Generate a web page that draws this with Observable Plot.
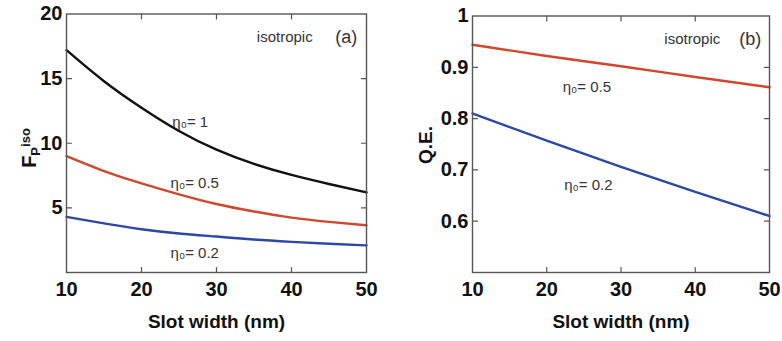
<!DOCTYPE html>
<html><head><meta charset="utf-8">
<script src="https://cdn.jsdelivr.net/npm/d3@7"></script>
<script src="https://cdn.jsdelivr.net/npm/@observablehq/plot@0.6"></script>
<style>
body{margin:0;background:#fff;}
#wrap{position:relative;width:782px;height:341px;display:flex;}
#wrap svg{font-family:"Liberation Sans",Arial,Helvetica,sans-serif;}
</style></head><body><div id="wrap"></div>
<script>
// ---- data ----
const slotWidthA = [10, 15, 20, 25, 30, 35, 40, 45, 50];
const fpEta1   = [17.2, 14.8, 12.75, 10.95, 9.5, 8.4, 7.55, 6.85, 6.2];
const fpEta05  = [9.0, 7.85, 6.9, 6.05, 5.3, 4.72, 4.25, 3.92, 3.65];
const fpEta02  = [4.3, 3.8, 3.35, 3.02, 2.78, 2.55, 2.37, 2.22, 2.1];

const slotWidthB = [10, 20, 30, 40, 50];
const qeEta05  = [0.944, 0.922, 0.902, 0.881, 0.861];
const qeEta02  = [0.81, 0.757, 0.706, 0.657, 0.61];

const xTicks = [10, 20, 30, 40, 50];
const yTicksA = [5, 10, 15, 20];
const yTicksB = [0.6, 0.7, 0.8, 0.9, 1];

const seriesKeys = ["η0=1", "η0=0.5", "η0=0.2"];
const seriesColors = ["#111111", "#d2472c", "#2c47a6"];

const notesA = [
  {x: 26.5, y: 11.6, text: "η₀= 1"},
  {x: 27.1, y: 6.9, text: "η₀= 0.5"},
  {x: 27.1, y: 1.5, text: "η₀= 0.2"},
  {x: 39.1, y: 18.2, text: "isotropic"}
];
const tagA = [{x: 47.3, y: 18.2, text: "(a)"}];
const notesB = [
  {x: 25.4, y: 0.861, text: "η₀= 0.5"},
  {x: 25.6, y: 0.670, text: "η₀= 0.2"},
  {x: 39.6, y: 0.954, text: "isotropic"}
];
const tagB = [{x: 47.4, y: 0.954, text: "(b)"}];

function toRows(xs, list) {
  return list.flatMap(([key, vals]) => xs.map((x, i) => ({x, y: vals[i], key})));
}

// straight tick shape for vectors
const tickShape = {draw(ctx, l) { ctx.moveTo(0, 0); ctx.lineTo(0, -l); }};

function panel(o) {
  const t = {length: 5, anchor: "start", shape: tickShape, stroke: "#555", strokeWidth: 1.2};
  const innerX = o.xTicks.slice(1, -1);
  const innerY = o.yTicks.filter(v => v !== o.yDomain[1]);
  return Plot.plot({
    width: o.width, height: 341,
    marginLeft: o.marginLeft, marginRight: o.marginRight,
    marginTop: o.marginTop, marginBottom: o.marginBottom,
    x: {domain: [10, 50]},
    y: {domain: o.yDomain},
    color: {domain: seriesKeys, range: seriesColors},
    marks: [
      Plot.line(o.rows, {x: "x", y: "y", stroke: "key", strokeWidth: 2.4, curve: "natural"}),
      Plot.vector(innerX, {x: d => d, frameAnchor: "bottom", rotate: 0, ...t}),
      Plot.vector(innerX, {x: d => d, frameAnchor: "top", rotate: 180, ...t}),
      Plot.vector(innerY, {y: d => d, frameAnchor: "left", rotate: 90, ...t}),
      Plot.vector(innerY, {y: d => d, frameAnchor: "right", rotate: -90, ...t}),
      Plot.frame({stroke: "#555", strokeWidth: 1.4}),
      Plot.axisX(o.xTicks, {anchor: "bottom", tickSize: 0, tickPadding: 9, fontSize: 20, fontWeight: "bold", fill: "#111", label: null}),
      Plot.axisY(o.yTicks, {anchor: "left", tickSize: 0, tickPadding: 4, fontSize: 20, fontWeight: "bold", fill: "#111", label: null, tickFormat: d => String(d)}),
      Plot.text(o.notes, {x: "x", y: "y", text: "text", fontSize: 15, fill: "#333"}),
      Plot.text(o.tag, {x: "x", y: "y", text: "text", fontSize: 18, fill: "#333"}),
      Plot.text(["Slot width (nm)"], {frameAnchor: "bottom", dy: 55, fontSize: 19, fontWeight: "bold", fill: "#111"})
    ]
  });
}

const wrap = document.getElementById("wrap");

const left = panel({
  width: 400, marginLeft: 66, marginRight: 34, marginTop: 13.5, marginBottom: 69,
  yDomain: [0, 20], yTicks: yTicksA, xTicks,
  rows: toRows(slotWidthA, [["η0=1", fpEta1], ["η0=0.5", fpEta05], ["η0=0.2", fpEta02]]),
  notes: notesA, tag: tagA
});
const right = panel({
  width: 382, marginLeft: 72, marginRight: 13, marginTop: 15.5, marginBottom: 69,
  yDomain: [0.5, 1], yTicks: yTicksB, xTicks,
  rows: toRows(slotWidthB, [["η0=0.5", qeEta05], ["η0=0.2", qeEta02]]),
  notes: notesB, tag: tagB
});
wrap.appendChild(left);
wrap.appendChild(right);

// rotated y labels with sub/superscripts
const lt = d3.select(left).append("text")
  .attr("transform", "translate(36,148) rotate(-90)")
  .attr("text-anchor", "middle")
  .attr("font-size", 20).attr("font-weight", "bold").attr("fill", "#111");
lt.append("tspan").text("F");
lt.append("tspan").attr("font-size", 13).attr("dy", 4).text("P");
lt.append("tspan").attr("font-size", 13).attr("dy", -10).text("iso");

d3.select(right).append("text")
  .attr("transform", "translate(32,145) rotate(-90)")
  .attr("text-anchor", "middle")
  .attr("font-size", 19).attr("font-weight", "bold").attr("fill", "#111")
  .text("Q.E.");
</script>
</body></html>
